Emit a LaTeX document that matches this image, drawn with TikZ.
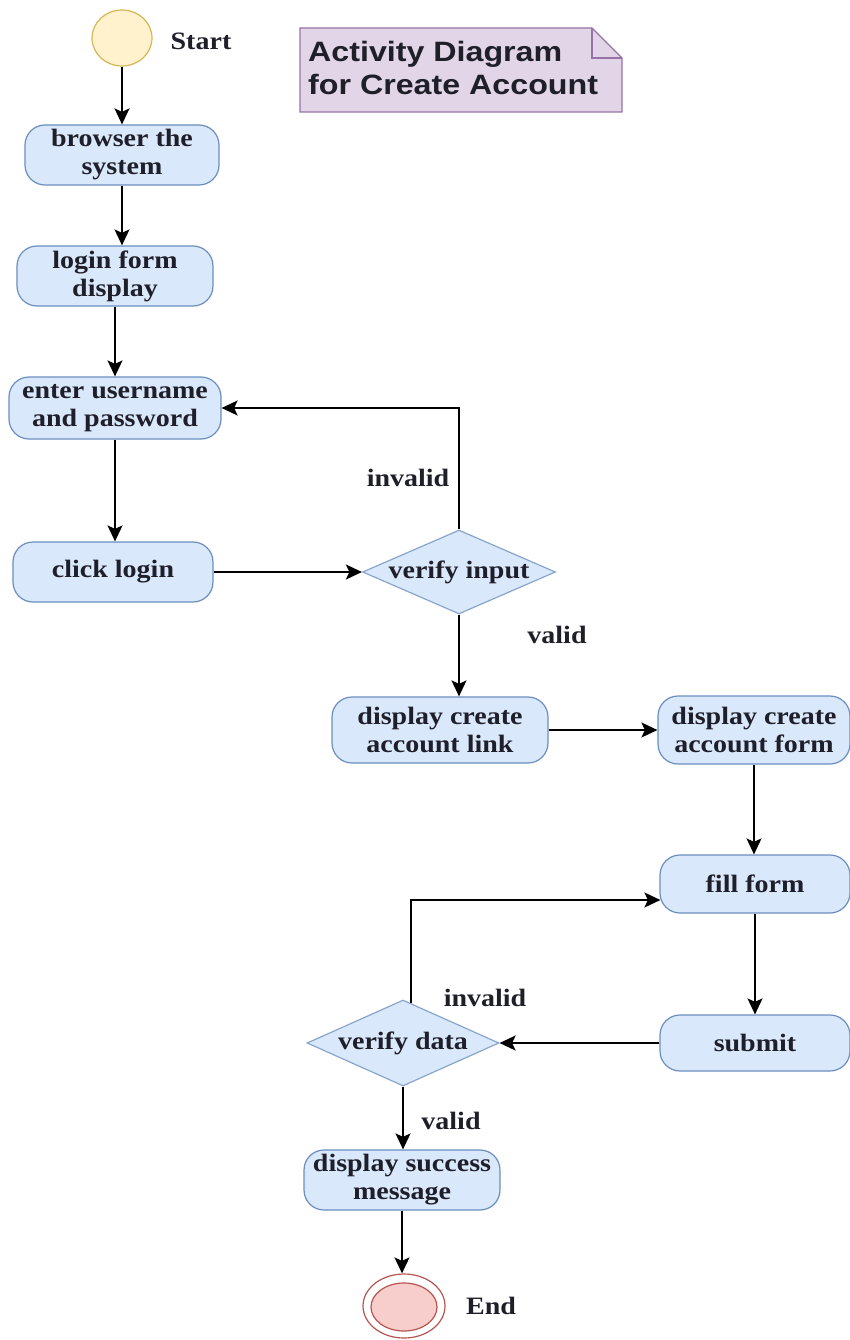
\documentclass[tikz,border=0pt]{standalone}
\usepackage{fontspec}
\setmainfont{Liberation Serif}[FakeStretch=1.12]
\newfontfamily\notefont{Liberation Sans}[FakeStretch=1.15]
\usetikzlibrary{shapes.geometric,arrows.meta,calc}
\definecolor{bfill}{HTML}{DAE8FC}
\definecolor{bdraw}{HTML}{6C8EBF}
\definecolor{yfill}{HTML}{FFF2CC}
\definecolor{ydraw}{HTML}{D6B656}
\definecolor{rfill}{HTML}{F8CECC}
\definecolor{rdraw}{HTML}{B85450}
\definecolor{pfill}{HTML}{E1D5E7}
\definecolor{pdraw}{HTML}{9673A6}
\definecolor{txtc}{HTML}{1F1F2A}
\tikzset{
  txt/.style={font=\bfseries\fontsize{25}{28}\selectfont, text=txtc, align=center, inner sep=0pt},
  actbox/.style={txt, draw=bdraw, fill=bfill, line width=1.2pt, rounded corners=20pt},
  decbox/.style={diamond, draw=bdraw!80, fill=bfill, line width=1.2pt, inner sep=0pt},
  arr/.style={line width=1.8pt, -{Stealth[length=16pt,width=15pt,inset=3.5pt]}},
}
\begin{document}
\begin{tikzpicture}[x=1pt,y=-1pt]
\useasboundingbox (0,0) rectangle (849,1340);
\fill[white] (0,0) rectangle (849,1340);
% start
\node[ellipse, draw=ydraw, fill=yfill, line width=1.2pt, minimum width=60pt, minimum height=56pt] (start) at (122,38) {};
\node[txt] (startlbl) at (201,41) {Start};
% note
\draw[fill=pfill, draw=pdraw, line width=1.2pt] (300,28) -- (592,28) -- (622,58) -- (622,112) -- (300,112) -- cycle;
\draw[draw=pdraw, line width=1.2pt] (592,28) -- (592,58) -- (622,58);
\node[font=\notefont\bfseries\fontsize{28}{33}\selectfont, text=txtc, align=left, anchor=west, inner sep=0pt] (note) at (308,68) {Activity Diagram\\for Create Account};
% activities
\node[actbox, minimum width=194pt, minimum height=60pt] (bs) at (122,155) {browser the\\system};
\node[actbox, minimum width=196pt, minimum height=60pt] (lf) at (115,276) {login form\\display};
\node[actbox, minimum width=212pt, minimum height=62pt] (eu) at (115,408) {enter username\\and password};
\node[actbox, minimum width=200pt, minimum height=60pt] (cl) at (113,572) {click login};
\node[decbox, minimum width=193pt, minimum height=84pt] (vi) at (459,572) {};
\node[txt] (vit) at (459,572) {verify input};
\node[actbox, minimum width=216pt, minimum height=66pt] (dcl) at (440,730) {display create\\account link};
\node[actbox, minimum width=192pt, minimum height=68pt] (dcf) at (754,730) {display create\\account form};
\node[actbox, minimum width=190pt, minimum height=58pt] (ff) at (755,884) {fill form};
\node[actbox, minimum width=190pt, minimum height=56pt] (sub) at (755,1043) {submit};
\node[decbox, minimum width=192pt, minimum height=86pt] (vd) at (403,1043) {};
\node[txt] (vdt) at (403,1043) {verify data};
\node[actbox, minimum width=196pt, minimum height=60pt] (dsm) at (402,1180) {display success\\message};
% end
\node[ellipse, draw=rdraw, fill=white, line width=1.2pt, minimum width=82pt, minimum height=64pt] (endo) at (404,1306) {};
\node[ellipse, draw=rdraw, fill=rfill, line width=1.2pt, minimum width=66pt, minimum height=48pt] (endi) at (404,1307) {};
\node[txt] (endlbl) at (491,1306) {End};
% labels
\node[txt] (inv1) at (408,478) {invalid};
\node[txt] (val1) at (557,635) {valid};
\node[txt] (inv2) at (485,998) {invalid};
\node[txt] (val2) at (451,1121) {valid};
% connectors
\draw[arr] (start.south) -- (start.south |- bs.north);
\draw[arr] (bs.south) -- (bs.south |- lf.north);
\draw[arr] (lf.south) -- (lf.south |- eu.north);
\draw[arr] (eu.south) -- (eu.south |- cl.north);
\draw[arr] (cl.east) -- (cl.east -| vi.west);
\draw[arr] (vi.north) -- (vi.north |- eu.east) -- (eu.east);
\draw[arr] (vi.south) -- (vi.south |- dcl.north);
\draw[arr] (dcl.east) -- (dcl.east -| dcf.west);
\draw[arr] (dcf.south) -- (dcf.south |- ff.north);
\draw[arr] (ff.south) -- (ff.south |- sub.north);
\draw[arr] (sub.west) -- (sub.west -| vd.east);
\coordinate (loopa) at ($(vd.north)+(8,3.5)$);
\coordinate (loopb) at ($(ff.west)+(1,16)$);
\draw[arr] (loopa) -- (loopa |- loopb) -- (loopb);
\draw[arr] (vd.south) -- (vd.south |- dsm.north);
\draw[arr] (dsm.south) -- (dsm.south |- endo.north);
\end{tikzpicture}
\end{document}
